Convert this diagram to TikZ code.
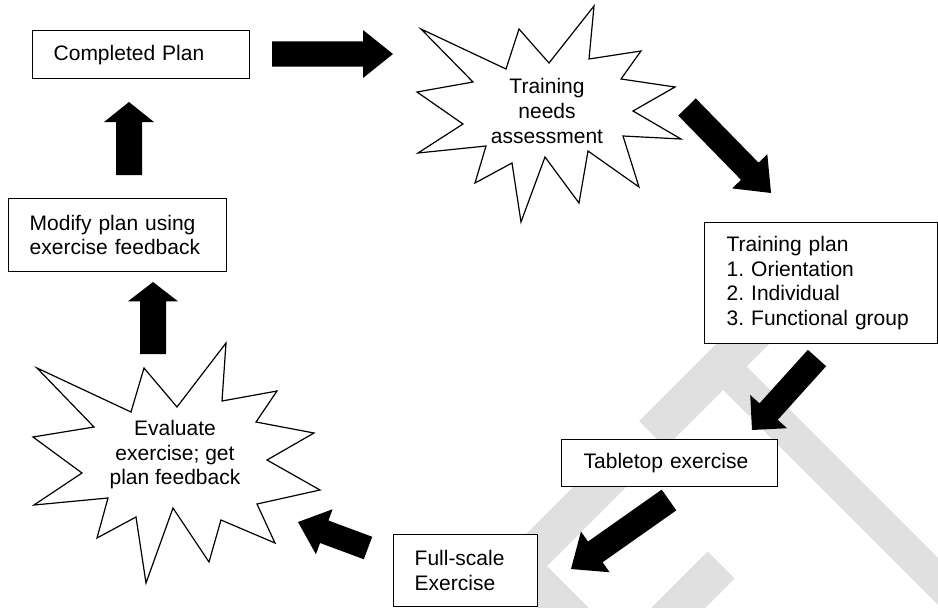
\documentclass[tikz,border=0pt]{standalone}
\usepackage{fontspec}
\setmainfont{Liberation Sans}
\usetikzlibrary{calc}
\frenchspacing

% Filled block arrow from #1 (tail) to #2 (tip):
% #3 shaft half width, #4 head length, #5 head half width
\newcommand\blkarrow[5]{%
  \coordinate (#2base) at ($(#2)!#4!(#1)$);
  \fill[black] ($(#1)!#3!90:(#2)$) -- ($(#2base)!#3!90:(#2)$)
    -- ($(#2base)!#5!90:(#2)$) -- (#2) -- ($(#2base)!#5!-90:(#2)$)
    -- ($(#2base)!#3!-90:(#2)$) -- ($(#1)!#3!-90:(#2)$) -- cycle;}

\begin{document}
\begin{tikzpicture}[x=0.75pt,y=-0.75pt,
  txt/.style={font=\fontsize{15.75}{18.4}\selectfont},
  box/.style={txt, draw=black, line width=1pt, fill=white, align=left,
    anchor=north west, inner xsep=15.75pt, inner ysep=0pt},
  burst/.style={draw=black, line width=0.9pt, fill=white, line join=miter},
  bursttext/.style={txt, align=center, inner sep=0pt},
  backletter/.style={fill=black!12}
]
\useasboundingbox (0,0) rectangle (938,607);

% faint background lettering
\begin{scope}
  \clip (0,0) rectangle (938,607);
  \fill[backletter] (639,421) -- (777.5,282.5) -- (804,309) -- (746.5,366.5)
    -- (990,610) -- (966.5,633.5) -- (723,390) -- (665.5,447.5) -- cycle;
  \fill[backletter] (495,565) -- (617.5,442.5) -- (644,469) -- (547,566)
    -- (620,639) -- (707.5,551.5) -- (734.5,578.5) -- (647,666)
    -- (840.5,859.5) -- (815,885) -- cycle;
\end{scope}

% boxes
\node[box, text width=131.25pt, minimum height=36pt] (done) at (32,30) {Completed Plan};
\node[box, text width=132pt, minimum height=54.75pt] (modify) at (8,198)
  {Modify plan using\\exercise feedback};
\node[box, inner xsep=16.5pt, text width=141.75pt, minimum height=90.75pt] (plan) at (704,222)
  {Training plan\\1. Orientation\\2. Individual\\3. Functional group};
\node[box, inner xsep=16.5pt, text width=129pt, minimum height=35.25pt] (tabletop) at (561,439)
  {Tabletop exercise};
\node[box, text width=76.5pt, minimum height=54pt] (fullscale) at (393,534)
  {Full-scale\\Exercise};

% bursts
\draw[burst] (421,29) -- (506,69) -- (519,29) -- (549,63) -- (594,6) -- (589,59)
  -- (641,51) -- (621,79) -- (675,87) -- (633,111) -- (681,139) -- (623,136)
  -- (639,187) -- (588,151) -- (579,203) -- (545,157) -- (521,222) -- (512,163)
  -- (475,183) -- (486,146) -- (418,153) -- (463,124) -- (417,92) -- (473,82) -- cycle;
\node[bursttext] (needs) at (547,111) {Training\\needs\\assessment};

\draw[burst] (37,368) -- (131,412) -- (144,368) -- (177,407) -- (226,343) -- (222,401)
  -- (277,391) -- (256,422) -- (314,433) -- (267,460) -- (320,490) -- (257,504)
  -- (275,543) -- (221,520) -- (209,562) -- (173,508) -- (146,583) -- (136,517)
  -- (97,538) -- (108,498) -- (34,505) -- (82,473) -- (33,437) -- (94,427) -- cycle;
\node[bursttext] (evaluate) at (175,455) {Evaluate\\exercise; get\\plan feedback};

% block arrows
\coordinate (aAt) at (272,54);  \coordinate (aAh) at (393,54);
\blkarrow{aAt}{aAh}{9.4pt}{22.5pt}{18pt}
\coordinate (aBt) at (687,107);  \coordinate (aBh) at (771,193);
\blkarrow{aBt}{aBh}{9.2pt}{22.8pt}{18.4pt}
\coordinate (aCt) at (817,358); \coordinate (aCh) at (752,430);
\blkarrow{aCt}{aCh}{9.2pt}{18.6pt}{18.6pt}
\coordinate (aDt) at (669,500); \coordinate (aDh) at (571,569);
\blkarrow{aDt}{aDh}{9.5pt}{22.3pt}{18.7pt}
\coordinate (aEt) at (368,548); \coordinate (aEh) at (298,522);
\blkarrow{aEt}{aEh}{9pt}{21pt}{18pt}
\coordinate (aFt) at (153,354); \coordinate (aFh) at (153,282);
\blkarrow{aFt}{aFh}{9.75pt}{14.5pt}{18.75pt}
\coordinate (aGt) at (129,175); \coordinate (aGh) at (129,102);
\blkarrow{aGt}{aGh}{9.75pt}{15pt}{18.75pt}
\end{tikzpicture}
\end{document}
